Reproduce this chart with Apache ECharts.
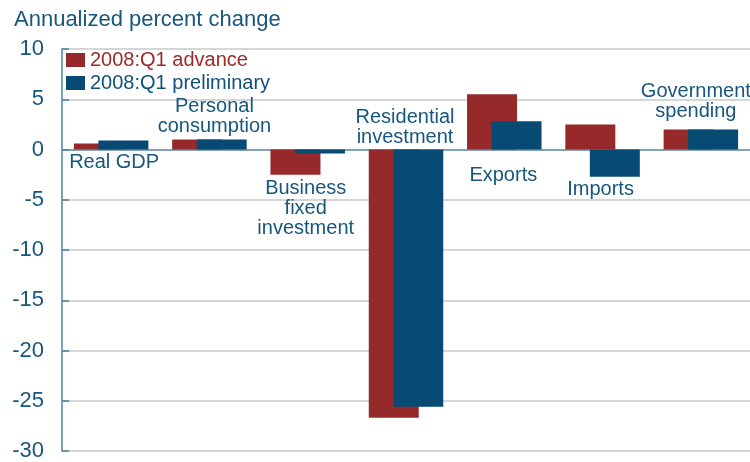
<!DOCTYPE html>
<html>
<head>
<meta charset="utf-8">
<script src="https://cdn.jsdelivr.net/npm/echarts@6/dist/echarts.min.js"></script>
<style>
html,body{margin:0;padding:0;background:#fff;}
#chart{width:750px;height:462px;}
</style>
</head>
<body>
<div id="chart"></div>
<script>
// ---- data ----
var categories = ['Real GDP', 'Personal consumption', 'Business fixed investment', 'Residential investment', 'Exports', 'Imports', 'Government spending'];
var categoryLabels = ['Real GDP', 'Personal\nconsumption', 'Business\nfixed\ninvestment', 'Residential\ninvestment', 'Exports', 'Imports', 'Government\nspending'];
var advance = [0.6, 1.0, -2.5, -26.7, 5.5, 2.5, 2.0];
var preliminary = [0.9, 1.0, -0.4, -25.6, 2.8, -2.7, 2.0];
var seriesNames = ['2008:Q1 advance', '2008:Q1 preliminary'];
var yTicks = {min: -30, max: 10, interval: 5};

// ---- layout of category annotations (value-axis anchor and pixel nudge) ----
var labelAnchor = [-1.3, 3.3, -5.9, 2.15, -2.6, -3.95, 4.75];
var labelNudgeX = [3, 5, -2, -1, -1, -2, -5];

var RED = '#962a2b', BLUE = '#074b74', TEXT = '#17567e';

var chart = echarts.init(document.getElementById('chart'));
var labelData = categories.map(function (c, i) {
  return {
    value: [c, labelAnchor[i]],
    label: { offset: [labelNudgeX[i], 0], formatter: categoryLabels[i] }
  };
});

chart.setOption({
  animation: false,
  title: {
    text: 'Annualized percent change',
    left: 9, top: 4,
    textStyle: { fontFamily: 'Liberation Sans, Arial', fontSize: 22, fontWeight: 'normal', color: TEXT }
  },
  legend: {
    data: [
      { name: seriesNames[0], textStyle: { color: '#9b2a2b' } },
      { name: seriesNames[1], textStyle: { color: '#10507a' } }
    ],
    orient: 'vertical',
    left: 61, top: 45,
    itemWidth: 19, itemHeight: 14, itemGap: 3,
    icon: 'rect',
    textStyle: { fontFamily: 'Liberation Sans, Arial', fontSize: 20 }
  },
  grid: { left: 62, right: 0, top: 49, bottom: 10, containLabel: false },
  xAxis: {
    type: 'category',
    data: categories,
    axisLine: { onZero: true, lineStyle: { color: '#6a90ad', width: 1.5 } },
    axisTick: { show: false },
    axisLabel: { show: false },
    splitLine: { show: false }
  },
  yAxis: {
    type: 'value',
    min: yTicks.min, max: yTicks.max, interval: yTicks.interval,
    axisLine: { show: true, onZero: false, lineStyle: { color: '#4f7fa0', width: 1.5 } },
    axisTick: { show: true, inside: true, length: 7, lineStyle: { color: '#4f7fa0', width: 1.5 } },
    axisLabel: { fontFamily: 'Liberation Sans, Arial', fontSize: 22, color: TEXT, margin: 18 },
    splitLine: { show: true, lineStyle: { color: '#d6d6d6', width: 2 } }
  },
  series: [
    {
      name: seriesNames[0], type: 'bar', data: advance,
      barWidth: 50, barGap: '-51%',
      itemStyle: { color: RED }
    },
    {
      name: seriesNames[1], type: 'bar', data: preliminary,
      barWidth: 50,
      itemStyle: { color: BLUE }
    },
    {
      name: 'labels', type: 'scatter', data: labelData,
      symbolSize: 0, silent: true, z: 5,
      itemStyle: { opacity: 1 },
      label: {
        show: true, position: 'inside', align: 'center', verticalAlign: 'middle',
        fontFamily: 'Liberation Sans, Arial', fontSize: 20, lineHeight: 20, color: TEXT, opacity: 1
      }
    }
  ]
});
</script>
</body>
</html>
